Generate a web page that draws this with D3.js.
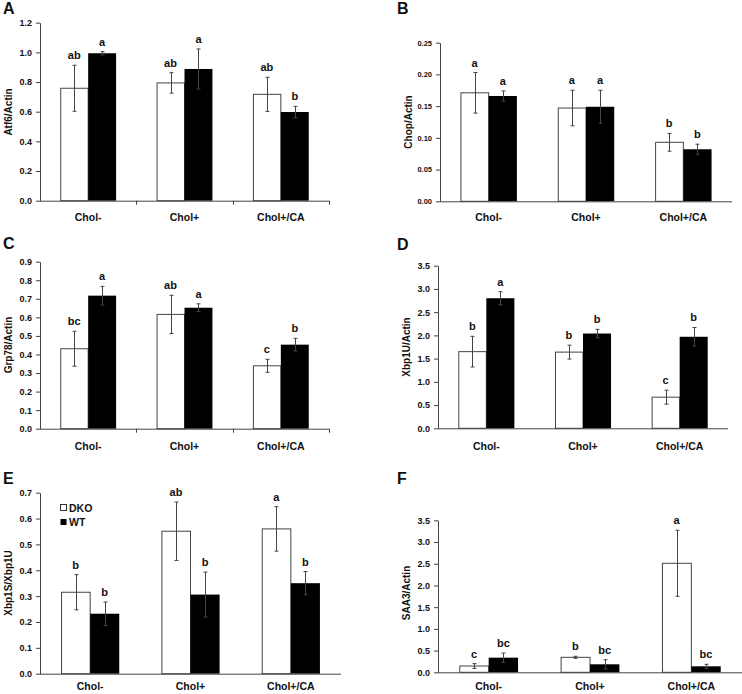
<!DOCTYPE html>
<html><head><meta charset="utf-8">
<script src="https://cdn.jsdelivr.net/npm/d3@7"></script>
<style>
html,body{margin:0;padding:0;background:#fff;}
svg{display:block;font-family:"Liberation Sans",Arial,sans-serif;font-weight:bold;}
</style></head>
<body><svg id="c" width="742" height="694"></svg>
<script>
// ---------- data ----------
const categories = ["Chol-", "Chol+", "Chol+/CA"];
const seriesNames = ["DKO", "WT"];

const atf6DKO = [0.758, 0.794, 0.717], atf6DKOErr = [0.155, 0.069, 0.115], atf6DKOSig = ["ab", "ab", "ab"];
const atf6WT  = [0.994, 0.888, 0.598], atf6WTErr  = [0.011, 0.135, 0.038], atf6WTSig  = ["a", "a", "b"];
const atf6Ticks = [0, 0.2, 0.4, 0.6, 0.8, 1.0, 1.2];

const chopDKO = [0.171, 0.147, 0.093], chopDKOErr = [0.032, 0.028, 0.014], chopDKOSig = ["a", "a", "b"];
const chopWT  = [0.166, 0.149, 0.082], chopWTErr  = [0.008, 0.026, 0.008], chopWTSig  = ["a", "a", "b"];
const chopTicks = [0, 0.05, 0.10, 0.15, 0.20, 0.25];

const grpDKO = [0.431, 0.616, 0.339], grpDKOErr = [0.094, 0.103, 0.035], grpDKOSig = ["bc", "ab", "c"];
const grpWT  = [0.717, 0.652, 0.453], grpWTErr  = [0.050, 0.021, 0.034], grpWTSig  = ["a", "a", "b"];
const grpTicks = [0, 0.1, 0.2, 0.3, 0.4, 0.5, 0.6, 0.7, 0.8, 0.9];

const xbpuDKO = [1.65, 1.64, 0.67], xbpuDKOErr = [0.33, 0.15, 0.15], xbpuDKOSig = ["b", "b", "c"];
const xbpuWT  = [2.80, 2.04, 1.97], xbpuWTErr  = [0.14, 0.09, 0.20], xbpuWTSig  = ["a", "b", "b"];
const xbpuTicks = [0, 0.5, 1.0, 1.5, 2.0, 2.5, 3.0, 3.5];

const xbpsDKO = [0.315, 0.551, 0.560], xbpsDKOErr = [0.068, 0.113, 0.086], xbpsDKOSig = ["b", "ab", "a"];
const xbpsWT  = [0.232, 0.306, 0.350], xbpsWTErr  = [0.045, 0.087, 0.045], xbpsWTSig  = ["b", "b", "b"];
const xbpsTicks = [0, 0.1, 0.2, 0.3, 0.4, 0.5, 0.6, 0.7];

const saaDKO = [0.145, 0.345, 2.51], saaDKOErr = [0.055, 0.023, 0.76], saaDKOSig = ["c", "b", "a"];
const saaWT  = [0.337, 0.184, 0.138], saaWTErr  = [0.107, 0.106, 0.046], saaWTSig  = ["bc", "bc", "bc"];
const saaTicks = [0, 0.5, 1.0, 1.5, 2.0, 2.5, 3.0, 3.5];

// ---------- drawing ----------
const svg = d3.select("#c");

function panel(cfg) {
  const g = svg.append("g");
  const y = d3.scaleLinear().domain([0, cfg.ticks[cfg.ticks.length - 1]]).range([cfg.yBot, cfg.yTop]);
  const x = d3.scaleBand().domain(categories).range([cfg.x0, cfg.x1]).paddingInner(cfg.pad).paddingOuter(cfg.pad / 2);
  const xs = d3.scaleBand().domain(seriesNames).range([0, x.bandwidth()]);

  // panel letter
  g.append("text").attr("x", cfg.lx).attr("y", cfg.ly).attr("font-size", 16).attr("fill", "#111").text(cfg.letter);

  // y axis
  const ya = g.append("g").attr("transform", `translate(${cfg.x0},0)`)
    .call(d3.axisLeft(y).tickValues(cfg.ticks).tickFormat(d3.format(cfg.fmt)).tickSize(4).tickSizeOuter(0).tickPadding(4));
  ya.select(".domain").attr("stroke", "#444");
  ya.selectAll(".tick line").attr("stroke", "#444");
  ya.selectAll(".tick text").attr("font-size", cfg.tfs).attr("fill", "#111").attr("font-family", "Liberation Sans, Arial, sans-serif").attr("font-weight", "bold");

  // y title
  g.append("text").attr("transform", `translate(${cfg.tx},${cfg.ty}) rotate(-90)`)
    .attr("text-anchor", "middle").attr("dominant-baseline", "central").attr("font-size", 10).attr("fill", "#111").text(cfg.title);

  // bars
  const series = [
    {name: "DKO", vals: cfg.dko, err: cfg.dkoErr, sig: cfg.dkoSig},
    {name: "WT", vals: cfg.wt, err: cfg.wtErr, sig: cfg.wtSig}
  ];
  series.forEach(s => {
    const rows = categories.map((c, i) => ({c, v: s.vals[i], e: s.err[i], l: s.sig[i]}));
    const bx = d => x(d.c) + xs(s.name);
    g.selectAll(null).data(rows).enter().append("rect")
      .attr("x", d => bx(d) + (s.name === "DKO" ? 0.5 : 0))
      .attr("y", d => y(d.v))
      .attr("width", xs.bandwidth() - (s.name === "DKO" ? 0.5 : 0))
      .attr("height", d => cfg.yBot - y(d.v))
      .attr("fill", s.name === "DKO" ? "#fff" : "#000")
      .attr("stroke", s.name === "DKO" ? "#444" : "none")
      .attr("stroke-width", 1);
    // error bars
    const cx = d => Math.round(bx(d) + xs.bandwidth() / 2) + 0.5;
    g.selectAll(null).data(rows).enter().append("line")
      .attr("x1", cx).attr("x2", cx).attr("y1", d => y(d.v - d.e)).attr("y2", d => y(d.v + d.e))
      .attr("stroke", "#444").attr("stroke-width", 1);
    ["lo", "hi"].forEach(k => {
      g.selectAll(null).data(rows).enter().append("line")
        .attr("x1", d => cx(d) - 2).attr("x2", d => cx(d) + 2)
        .attr("y1", d => y(k === "lo" ? d.v - d.e : d.v + d.e)).attr("y2", d => y(k === "lo" ? d.v - d.e : d.v + d.e))
        .attr("stroke", "#444").attr("stroke-width", 1);
    });
    // significance letters
    g.selectAll(null).data(rows).enter().append("text")
      .attr("x", d => bx(d) + xs.bandwidth() / 2).attr("y", d => y(d.v + d.e) - 6)
      .attr("text-anchor", "middle").attr("font-size", 11).attr("fill", "#111").text(d => d.l);
  });

  // x axis line
  g.append("line").attr("x1", cfg.x0).attr("x2", cfg.x1).attr("y1", cfg.yBot + 0.5).attr("y2", cfg.yBot + 0.5).attr("stroke", "#444");
  if (cfg.catTicks) {
    g.selectAll(null).data(categories).enter().append("line")
      .attr("x1", d => Math.round(x(d) + x.bandwidth() + x.step() * cfg.pad / 2) + 0.5)
      .attr("x2", d => Math.round(x(d) + x.bandwidth() + x.step() * cfg.pad / 2) + 0.5)
      .attr("y1", cfg.yBot).attr("y2", cfg.yBot + 4).attr("stroke", "#444");
  }
  g.selectAll(null).data(categories).enter().append("text")
    .attr("x", d => x(d) + x.bandwidth() / 2).attr("y", cfg.catY)
    .attr("text-anchor", "middle").attr("dominant-baseline", "central").attr("font-size", 10.5).attr("fill", "#111").text(d => d);

  if (cfg.legend) {
    const lg = g.append("g");
    seriesNames.forEach((n, i) => {
      lg.append("rect").attr("x", 60.5).attr("y", 504.5 + i * 14.5).attr("width", 6).attr("height", 6)
        .attr("fill", n === "DKO" ? "#fff" : "#000").attr("stroke", n === "DKO" ? "#333" : "none");
      lg.append("text").attr("x", 69).attr("y", 507.5 + i * 14.5).attr("dominant-baseline", "central")
        .attr("font-size", 10.5).attr("fill", "#111").text(n);
    });
  }
}

panel({letter: "A", lx: 3, ly: 14, title: "Atf6/Actin", tx: 8, ty: 112,
  x0: 40, x1: 329, yTop: 22.7, yBot: 200.7, pad: 0.42, ticks: atf6Ticks, fmt: ".1f", tfs: 9, catTicks: true, catY: 217,
  dko: atf6DKO, dkoErr: atf6DKOErr, dkoSig: atf6DKOSig, wt: atf6WT, wtErr: atf6WTErr, wtSig: atf6WTSig});
panel({letter: "B", lx: 397, ly: 14, title: "Chop/Actin", tx: 408, ty: 122,
  x0: 440, x1: 732, yTop: 42.7, yBot: 201.3, pad: 0.42, ticks: chopTicks, fmt: ".2f", tfs: 7.5, catTicks: false, catY: 217,
  dko: chopDKO, dkoErr: chopDKOErr, dkoSig: chopDKOSig, wt: chopWT, wtErr: chopWTErr, wtSig: chopWTSig});
panel({letter: "C", lx: 3, ly: 249, title: "Grp78/Actin", tx: 8, ty: 345,
  x0: 40, x1: 329, yTop: 261.7, yBot: 428.7, pad: 0.42, ticks: grpTicks, fmt: ".1f", tfs: 9, catTicks: true, catY: 446,
  dko: grpDKO, dkoErr: grpDKOErr, dkoSig: grpDKOSig, wt: grpWT, wtErr: grpWTErr, wtSig: grpWTSig});
panel({letter: "D", lx: 397, ly: 250, title: "Xbp1U/Actin", tx: 406, ty: 347,
  x0: 438, x1: 728, yTop: 265.7, yBot: 428.3, pad: 0.42, ticks: xbpuTicks, fmt: ".1f", tfs: 9, catTicks: false, catY: 446,
  dko: xbpuDKO, dkoErr: xbpuDKOErr, dkoSig: xbpuDKOSig, wt: xbpuWT, wtErr: xbpuWTErr, wtSig: xbpuWTSig});
panel({letter: "E", lx: 3, ly: 484, title: "Xbp1S/Xbp1U", tx: 8, ty: 583,
  x0: 40, x1: 341, yTop: 492.7, yBot: 673.7, pad: 0.42, ticks: xbpsTicks, fmt: ".1f", tfs: 9, catTicks: false, legend: true, catY: 686,
  dko: xbpsDKO, dkoErr: xbpsDKOErr, dkoSig: xbpsDKOSig, wt: xbpsWT, wtErr: xbpsWTErr, wtSig: xbpsWTSig});
panel({letter: "F", lx: 397, ly: 484, title: "SAA3/Actin", tx: 406, ty: 593,
  x0: 438, x1: 742, yTop: 520.3, yBot: 672.3, pad: 0.42, ticks: saaTicks, fmt: ".1f", tfs: 9, catTicks: false, catY: 686,
  dko: saaDKO, dkoErr: saaDKOErr, dkoSig: saaDKOSig, wt: saaWT, wtErr: saaWTErr, wtSig: saaWTSig});
</script></body></html>
